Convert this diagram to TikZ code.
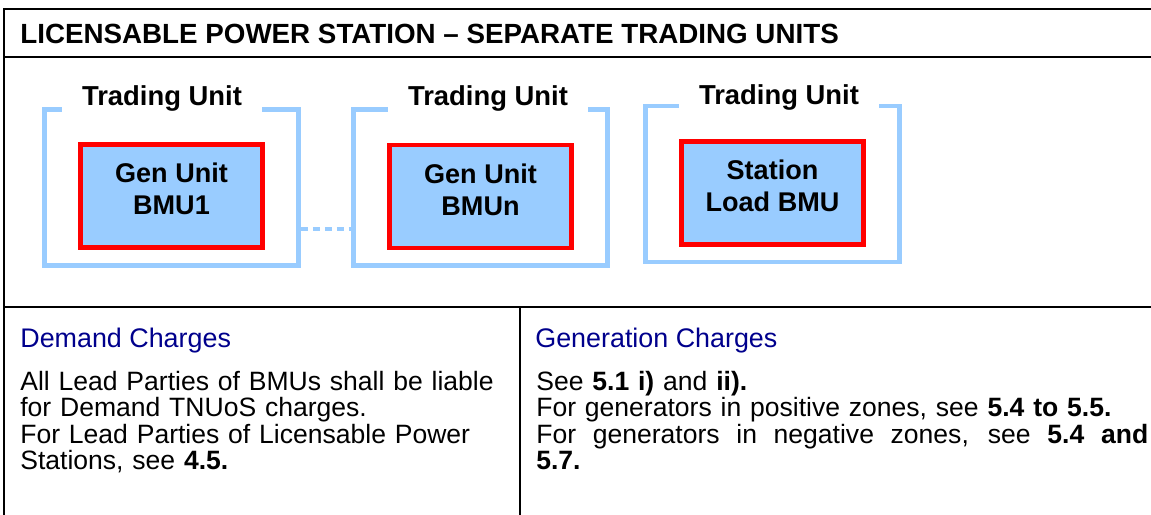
\documentclass[tikz,border=0pt]{standalone}
\usepackage{fontspec}
\setmainfont{Liberation Sans}
\definecolor{tublue}{RGB}{153,204,255}
\definecolor{headblue}{RGB}{0,0,140}
\tikzset{
  frame/.style={line width=1.5pt, black},
  tubox/.style={draw=tublue, line width=2.8pt, minimum width=5.08cm, minimum height=3.12cm, inner sep=0pt},
  tulabel/.style={fill=white, minimum width=4cm, inner sep=2pt, font=\fontsize{15.6}{18}\selectfont\bfseries},
  bmubox/.style={draw=red, fill=tublue, line width=2.8pt, minimum width=3.64cm, minimum height=2.06cm, inner sep=0pt},
  bmutext/.style={align=center, yshift=4pt, font=\fontsize{15.4}{18.1}\selectfont\bfseries},
  title/.style={anchor=base west, inner sep=0pt, font=\fontsize{15.8}{18}\selectfont\bfseries},
  head/.style={anchor=base west, inner sep=0pt, headblue, font=\fontsize{15.3}{15}\selectfont},
  body/.style={anchor=base west, inner sep=0pt, align=left, font=\fontsize{15.1}{15.1}\selectfont},
}
\begin{document}
\begin{tikzpicture}[x=0.02cm, y=-0.02cm]
  \useasboundingbox (0,0) rectangle (1151,514);
  \clip (0,0) rectangle (1151,514);

  % Rahmen der Tabelle
  \draw[frame] (4,9) rectangle (1170,530);
  \draw[frame] (4,57) -- (1170,57);
  \draw[frame] (4,307) -- (1170,307);
  \draw[frame] (520,307) -- (520,530);
  \node[title] (title) at (20,43) {LICENSABLE POWER STATION – SEPARATE TRADING UNITS};

  % Trading Units mit BMUs
  \foreach \n/\x/\y/\by/\t in {A/171.5/187.5/196/{Gen Unit\\BMU1}, N/480.5/187.5/196.5/{Gen Unit\\BMUn}, S/772.5/184/193/{Station\\Load BMU}} {
    \node[tubox] (tu\n) at (\x,\y) {};
    \node[bmubox, label={[bmutext]center:\t}] (bmu\n) at (\x,\by) {};
  }
  \foreach \n/\x/\y in {A/162/98, N/488/98, S/779/97} {
    \node[tulabel] (tl\n) at (\x,\y) {Trading Unit};
  }
  \draw[tublue, line width=2.8pt, dash pattern=on 4pt off 2.8pt] ([yshift=-0.83cm]tuA.east) -- ([yshift=-0.83cm]tuN.west);

  % Demand Charges
  \node[head] (hdDem) at (20,347) {Demand Charges};
  \node[body, text width=9.8cm] (txtDem) at (20,390) {All Lead Parties of BMUs shall be liable\\for Demand TNUoS charges.\\For Lead Parties of Licensable Power\\Stations, see \textbf{4.5.}};

  % Generation Charges
  \node[head] (hdGen) at (535,347) {Generation Charges};
  \node[body, text width=12.24cm] (txtGen) at (536,390) {See \textbf{5.1 i)} and \textbf{ii).}\\For generators in positive zones, see \textbf{5.4 to 5.5.}\\\makebox[12.24cm][s]{\spaceskip=0pt For generators in negative zones, see \textbf{5.4 and}}\\\textbf{5.7.}};
\end{tikzpicture}
\end{document}
